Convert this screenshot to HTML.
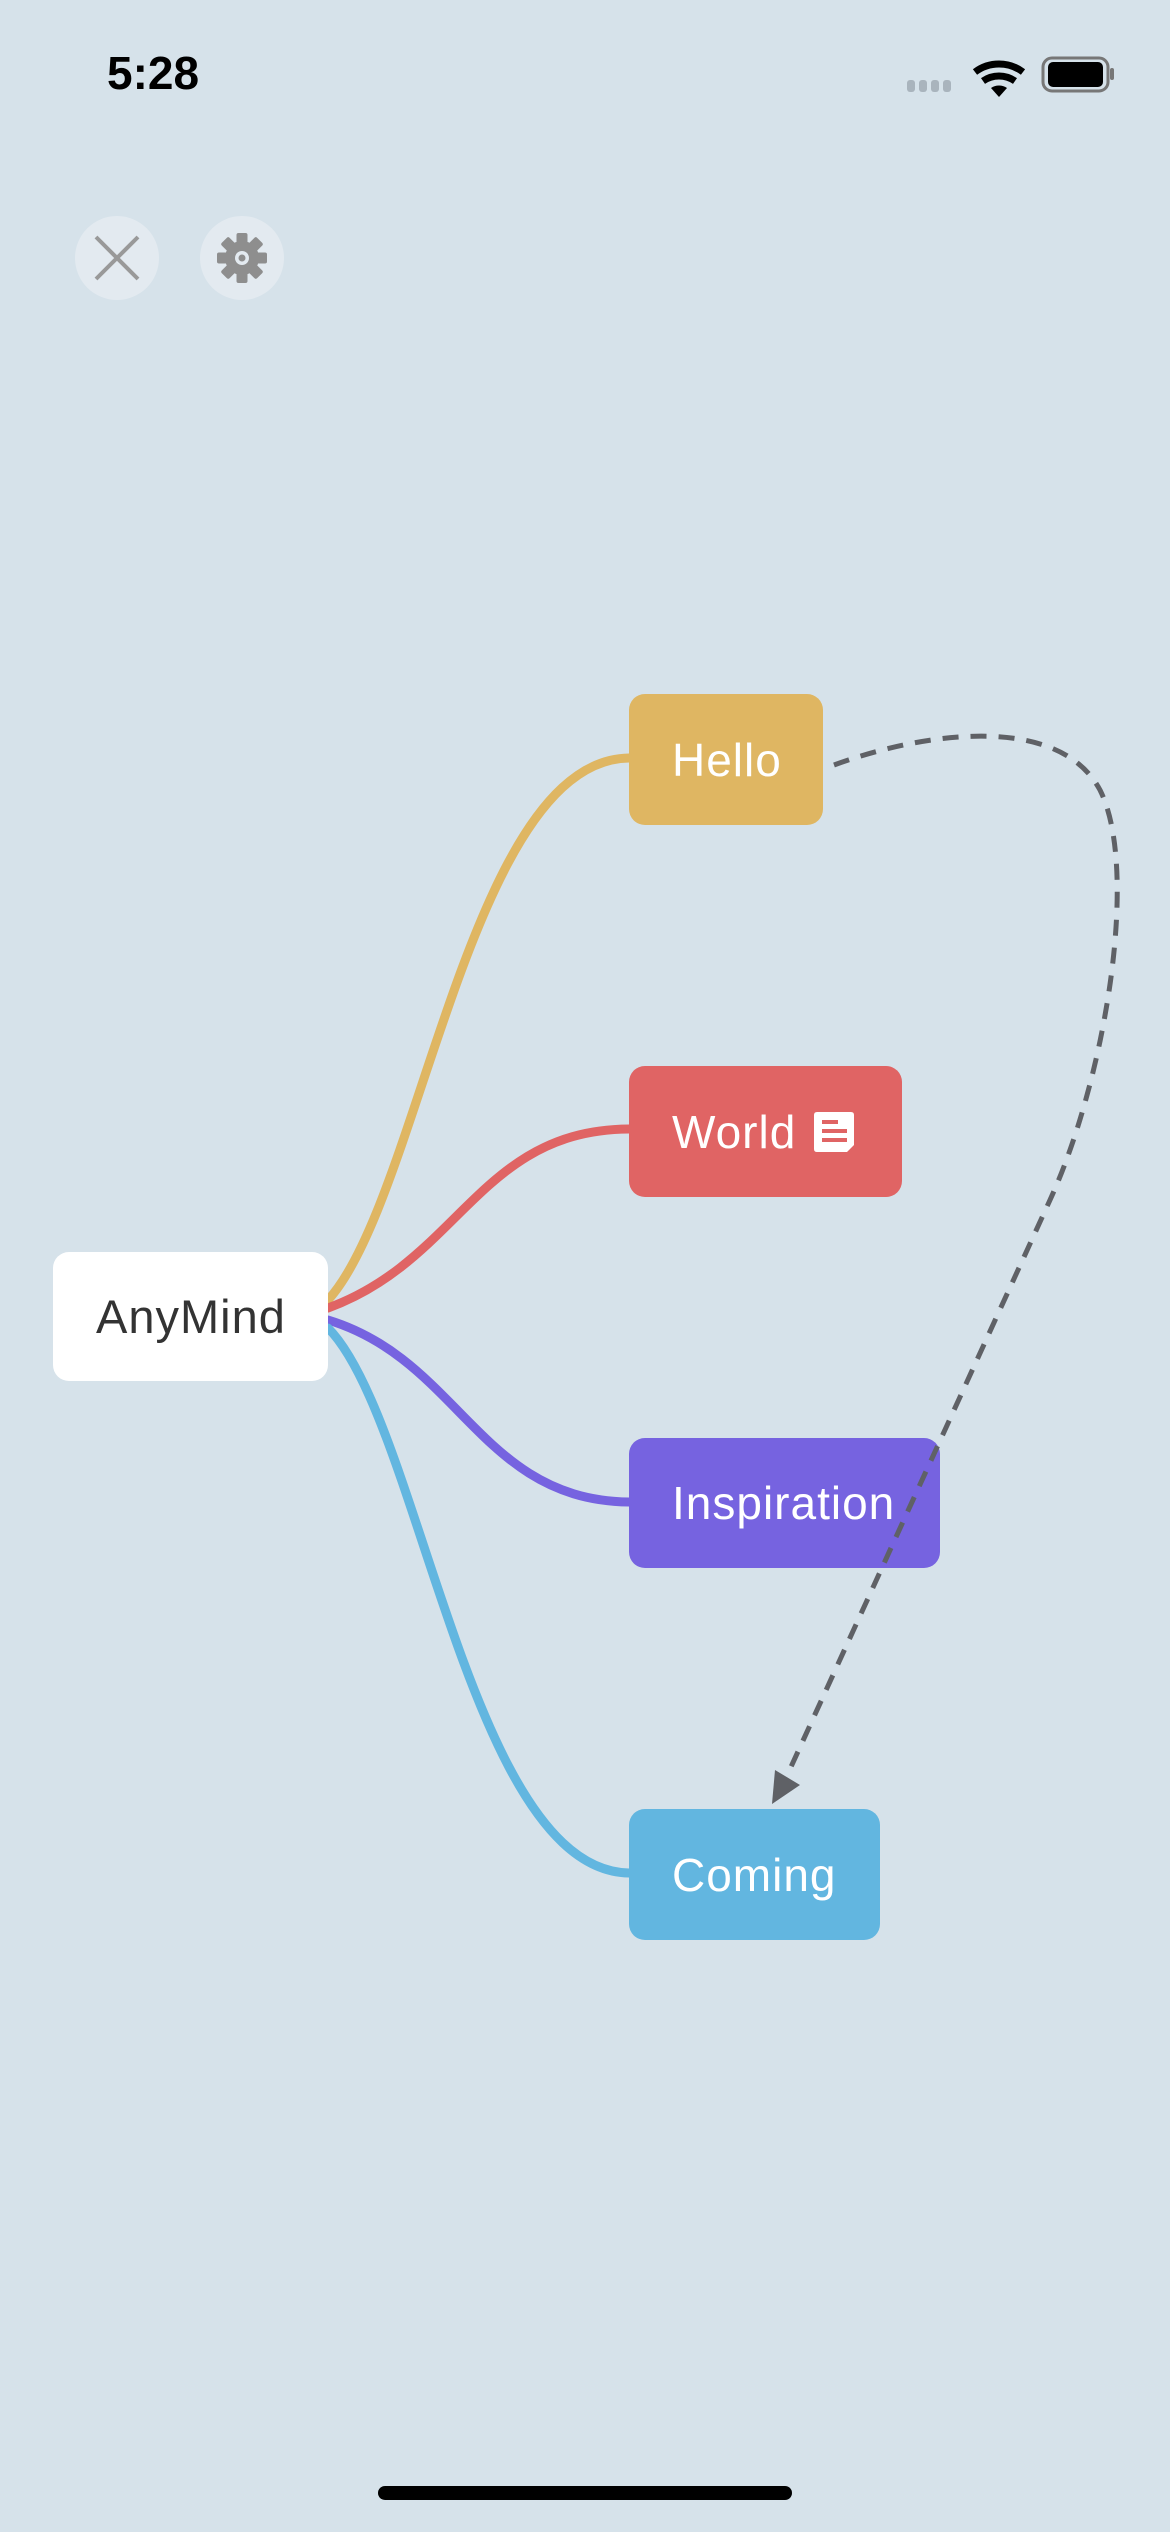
<!DOCTYPE html>
<html><head><meta charset="utf-8"><style>
html,body{margin:0;padding:0}
body{width:1170px;height:2532px;background:#d6e2ea;position:relative;overflow:hidden;font-family:"Liberation Sans",sans-serif}
.n{position:absolute;border-radius:16px;color:#fff;font-size:46px;letter-spacing:1px;display:flex;align-items:center;box-sizing:border-box;padding-left:43px}
</style></head><body>
<div style="position:absolute;left:107px;top:46px;font-size:46px;font-weight:bold;color:#000">5:28</div>
<svg width="1170" height="2532" style="position:absolute;left:0;top:0">
 <g fill="#a9b4bd"><rect x="907" y="80" width="8" height="12" rx="3"/><rect x="919" y="80" width="8" height="12" rx="3"/><rect x="931" y="80" width="8" height="12" rx="3"/><rect x="943" y="80" width="8" height="12" rx="3"/></g>
 <path d="M975,72 A40,40 0 0 1 1023,72" stroke="#000" stroke-width="7" fill="none"/>
 <path d="M983,81 A28,28 0 0 1 1015,81" stroke="#000" stroke-width="7" fill="none"/>
 <path d="M991,88 A14,14 0 0 1 1007,88 L999,97 Z" fill="#000"/>
 <rect x="1043" y="58" width="65" height="33" rx="9" fill="none" stroke="#777" stroke-width="3"/>
 <rect x="1048" y="62" width="55" height="25" rx="5" fill="#000"/>
 <rect x="1110" y="68" width="4" height="12" rx="2" fill="#777"/>
 <circle cx="117" cy="258" r="42" fill="#e3eaf0"/>
 <path d="M96,237 L138,279 M138,237 L96,279" stroke="#999" stroke-width="4"/>
 <circle cx="242" cy="258" r="42" fill="#e3eaf0"/>
 <g transform="translate(242,258)" fill="#8e8e8e">
  <circle r="17"/>
  <g id="t"><rect x="-5.5" y="-25" width="11" height="12" rx="2"/></g>
  <use href="#t" transform="rotate(45)"/><use href="#t" transform="rotate(90)"/><use href="#t" transform="rotate(135)"/><use href="#t" transform="rotate(180)"/><use href="#t" transform="rotate(225)"/><use href="#t" transform="rotate(270)"/><use href="#t" transform="rotate(315)"/>
  <circle r="7" fill="#e3eaf0"/><circle r="3.5" fill="#8e8e8e"/>
 </g>
 <g fill="none" stroke-width="9" stroke-linecap="round">
  <path d="M328,1300 C420,1200 470,760 629,758" stroke="#dfb662"/>
  <path d="M328,1308 C460,1260 480,1130 629,1129" stroke="#e06464"/>
  <path d="M328,1320 C460,1360 480,1500 629,1502" stroke="#7663e0"/>
  <path d="M328,1328 C420,1420 470,1870 629,1873" stroke="#62b6e0"/>
 </g>
 <rect x="378" y="2486" width="414" height="14" rx="7" fill="#000"/>
</svg>
<div class="n" style="left:53px;top:1252px;width:275px;height:129px;background:#fff;color:#333;font-size:47px">AnyMind</div>
<div class="n" style="left:629px;top:694px;width:194px;height:131px;background:#dfb662">Hello</div>
<div class="n" style="left:629px;top:1066px;width:273px;height:131px;background:#e06464">World
 <svg width="40" height="40" style="margin-left:18px" viewBox="0 0 40 40"><path d="M3,0 H37 Q40,0 40,3 V33 L33,40 H3 Q0,40 0,37 V3 Q0,0 3,0Z" fill="#fff"/><g stroke="#e06464" stroke-width="4"><line x1="8" y1="10" x2="24" y2="10"/><line x1="8" y1="19" x2="33" y2="19"/><line x1="8" y1="28" x2="33" y2="28"/></g></svg></div>
<div class="n" style="left:629px;top:1438px;width:311px;height:130px;background:#7663e0">Inspiration</div>
<div class="n" style="left:629px;top:1809px;width:251px;height:131px;background:#62b6e0">Coming</div>
<svg width="1170" height="2532" style="position:absolute;left:0;top:0">
 <path d="M834,765 C930,730 1060,715 1100,790 C1140,870 1105,1080 1050,1200 L785,1780" fill="none" stroke="#5f6166" stroke-width="5" stroke-dasharray="16,12"/>
 <path d="M772,1804 L775,1770 L800,1785 Z" fill="#5f6166"/>
</svg>
</body></html>
